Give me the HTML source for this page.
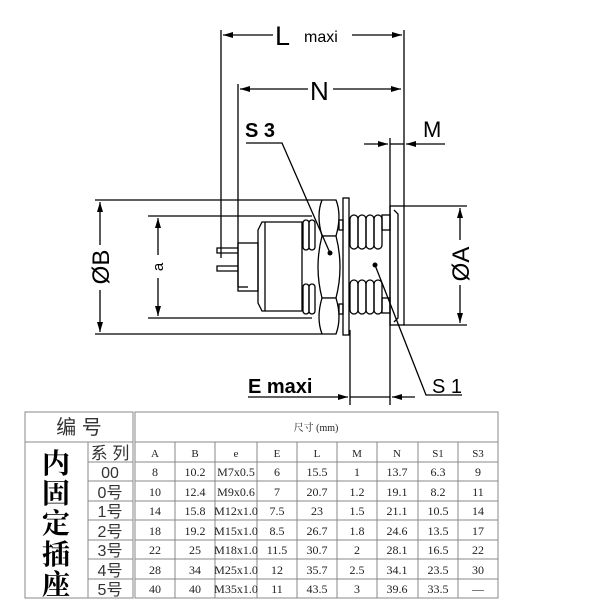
<!DOCTYPE html>
<html><head><meta charset="utf-8"><style>
html,body{margin:0;padding:0;background:#fff;width:600px;height:600px;overflow:hidden}
svg{display:block}
.s{font-family:"Liberation Sans",sans-serif}
.c{font-family:"Liberation Serif","Noto Serif CJK SC",serif}
.k{font-family:"Liberation Sans","Noto Sans CJK SC",sans-serif}
</style></head><body>
<svg width="600" height="600" viewBox="0 0 600 600" xmlns="http://www.w3.org/2000/svg">
<defs>
<marker id="a" viewBox="0 0 10 6" refX="10" refY="3" markerWidth="10" markerHeight="6" orient="auto-start-reverse" markerUnits="userSpaceOnUse"><path d="M0,0 L10,3 L0,6z" fill="#000"/></marker>
</defs>
<g stroke="#000" stroke-width="1.3" fill="none">
<line x1="221" y1="30" x2="221" y2="258"/>
<line x1="238" y1="84" x2="238" y2="287"/>
<line x1="238" y1="287" x2="248" y2="287"/>
<line x1="404" y1="30" x2="404" y2="206"/>
<line x1="390" y1="138" x2="390" y2="405"/>
<line x1="350" y1="330" x2="350" y2="405"/>
<line x1="273" y1="35" x2="223" y2="35" marker-end="url(#a)"/>
<line x1="352" y1="35" x2="402" y2="35" marker-end="url(#a)"/>
<line x1="308" y1="89" x2="240" y2="89" marker-end="url(#a)"/>
<line x1="333" y1="89" x2="401" y2="89" marker-end="url(#a)"/>
<line x1="364" y1="144" x2="388" y2="144" marker-end="url(#a)"/>
<line x1="390" y1="144" x2="404" y2="144"/>
<line x1="445" y1="144" x2="406" y2="144" marker-end="url(#a)"/>
<line x1="248" y1="397" x2="348" y2="397" marker-end="url(#a)"/>
<line x1="350" y1="397" x2="390" y2="397"/>
<line x1="415" y1="397" x2="392" y2="397" marker-end="url(#a)"/>
<line x1="95" y1="200" x2="322" y2="200"/>
<line x1="95" y1="334" x2="322" y2="334"/>
<line x1="100" y1="245" x2="100" y2="202" marker-end="url(#a)"/>
<line x1="100" y1="290" x2="100" y2="332" marker-end="url(#a)"/>
<line x1="148" y1="216" x2="312" y2="216"/>
<line x1="148" y1="318" x2="312" y2="318"/>
<line x1="158" y1="255" x2="158" y2="218" marker-end="url(#a)"/>
<line x1="158" y1="278" x2="158" y2="316" marker-end="url(#a)"/>
<line x1="404" y1="206" x2="467" y2="206"/>
<line x1="404" y1="325" x2="467" y2="325"/>
<line x1="460" y1="240" x2="460" y2="208" marker-end="url(#a)"/>
<line x1="460" y1="285" x2="460" y2="323" marker-end="url(#a)"/>
<polyline points="238,248 217,248 217,253 238,253"/>
<polyline points="238,266 217,266 217,271 238,271"/>
<rect x="238" y="243" width="20" height="48"/>
<path d="M262,222 L302,222 L302,311 L262,311 L258,303 L258,230z"/>
<line x1="265" y1="222" x2="265" y2="311"/>
<rect x="303" y="220" width="6" height="30" rx="3"/><rect x="309" y="220" width="6" height="30" rx="3"/>
<rect x="303" y="284" width="6" height="30" rx="3"/><rect x="309" y="284" width="6" height="30" rx="3"/>
<path d="M322,200 L336,200 Q342,215 336,236 L322,236 Q316,215 322,200z" fill="#fff"/>
<path d="M322,236 L336,236 Q344,267 336,298 L322,298 Q314,267 322,236z" fill="#fff"/>
<path d="M322,298 L336,298 Q342,318 336,334 L322,334 Q316,318 322,298z" fill="#fff"/>
<rect x="343" y="198" width="6" height="137"/>
<rect x="339" y="220" width="4" height="10"/><rect x="339" y="304" width="4" height="10"/>
<rect x="350" y="215" width="8" height="34" rx="4"/><rect x="358" y="215" width="8" height="34" rx="4"/><rect x="366" y="215" width="8" height="34" rx="4"/><rect x="374" y="215" width="8" height="34" rx="4"/>
<rect x="350" y="280" width="8" height="34" rx="4"/><rect x="358" y="280" width="8" height="34" rx="4"/><rect x="366" y="280" width="8" height="34" rx="4"/><rect x="374" y="280" width="8" height="34" rx="4"/>
<rect x="382" y="215" width="8" height="15"/><rect x="382" y="298" width="8" height="15"/>
<rect x="390" y="206" width="14" height="119"/>
<path d="M394,210 L398,214 L398,318 L394,322"/>
<polyline points="246,143 282,143 330,253"/>
<polyline points="375,265 426,395 462,395"/>
</g>
<circle cx="330" cy="253" r="2.5"/><circle cx="375" cy="265" r="2.5"/>
<g class="s" fill="#000">
<text x="275" y="45" font-size="27">L</text>
<text x="304" y="42" font-size="16">maxi</text>
<text x="310" y="100" font-size="26">N</text>
<text x="245" y="137" font-size="20" font-weight="bold">S 3</text>
<text x="423" y="137" font-size="22">M</text>
<text x="248" y="393" font-size="20" font-weight="bold">E maxi</text>
<text x="432" y="393" font-size="20">S 1</text>
<text transform="translate(109,267) rotate(-90)" font-size="24" text-anchor="middle">ØB</text>
<text transform="translate(163,267) rotate(-90)" font-size="15" text-anchor="middle">a</text>
<text transform="translate(469,264) rotate(-90)" font-size="24" text-anchor="middle">ØA</text>
</g>
<g stroke="#888" stroke-width="1" fill="none">
<rect x="25" y="412" width="108" height="186"/>
<line x1="25" y1="442" x2="133" y2="442"/>
<line x1="88" y1="442" x2="88" y2="598"/>
<line x1="88" y1="462" x2="133" y2="462"/><line x1="88" y1="481" x2="133" y2="481"/>
<line x1="88" y1="501" x2="133" y2="501"/><line x1="88" y1="520" x2="133" y2="520"/>
<line x1="88" y1="540" x2="133" y2="540"/><line x1="88" y1="559" x2="133" y2="559"/>
<line x1="88" y1="579" x2="133" y2="579"/>
<rect x="135" y="412" width="363" height="186"/>
<line x1="135" y1="442" x2="498" y2="442"/>
<line x1="135" y1="462" x2="498" y2="462"/><line x1="135" y1="481" x2="498" y2="481"/>
<line x1="135" y1="501" x2="498" y2="501"/><line x1="135" y1="520" x2="498" y2="520"/>
<line x1="135" y1="540" x2="498" y2="540"/><line x1="135" y1="559" x2="498" y2="559"/>
<line x1="135" y1="579" x2="498" y2="579"/>
<line x1="175" y1="442" x2="175" y2="598"/><line x1="215" y1="442" x2="215" y2="598"/>
<line x1="257" y1="442" x2="257" y2="598"/><line x1="297" y1="442" x2="297" y2="598"/>
<line x1="337" y1="442" x2="337" y2="598"/><line x1="377" y1="442" x2="377" y2="598"/>
<line x1="418" y1="442" x2="418" y2="598"/><line x1="458" y1="442" x2="458" y2="598"/>
</g>
<g class="k" fill="#333" text-anchor="middle">
<text x="79" y="434" font-size="20">编 号</text>
<text x="110" y="459" font-size="17">系 列</text>
<text x="110" y="478" font-size="16">00</text>
<text x="110" y="498" font-size="16">0号</text>
<text x="110" y="517" font-size="16">1号</text>
<text x="110" y="537" font-size="16">2号</text>
<text x="110" y="556" font-size="16">3号</text>
<text x="110" y="576" font-size="16">4号</text>
<text x="110" y="595" font-size="16">5号</text>
</g>
<g font-family="'Noto Serif CJK SC',serif" fill="#000" text-anchor="middle" font-size="28" font-weight="bold">
<text x="56" y="473">内</text><text x="56" y="503">固</text><text x="56" y="533">定</text>
<text x="56" y="564">插</text><text x="56" y="594">座</text>
</g>
<g class="c" fill="#222" text-anchor="middle" font-size="12">
<text x="316" y="431" font-size="10">尺寸 (mm)</text>
<g font-size="11"><text x="155" y="457">A</text><text x="195" y="457">B</text><text x="236" y="457">e</text><text x="277" y="457">E</text><text x="317" y="457">L</text><text x="357" y="457">M</text><text x="397" y="457">N</text><text x="438" y="457">S1</text><text x="478" y="457">S3</text></g>
<text x="155" y="476">8</text><text x="195" y="476">10.2</text><text x="236" y="476">M7x0.5</text><text x="277" y="476">6</text><text x="317" y="476">15.5</text><text x="357" y="476">1</text><text x="397" y="476">13.7</text><text x="438" y="476">6.3</text><text x="478" y="476">9</text>
<text x="155" y="496">10</text><text x="195" y="496">12.4</text><text x="236" y="496">M9x0.6</text><text x="277" y="496">7</text><text x="317" y="496">20.7</text><text x="357" y="496">1.2</text><text x="397" y="496">19.1</text><text x="438" y="496">8.2</text><text x="478" y="496">11</text>
<text x="155" y="515">14</text><text x="195" y="515">15.8</text><text x="236" y="515">M12x1.0</text><text x="277" y="515">7.5</text><text x="317" y="515">23</text><text x="357" y="515">1.5</text><text x="397" y="515">21.1</text><text x="438" y="515">10.5</text><text x="478" y="515">14</text>
<text x="155" y="535">18</text><text x="195" y="535">19.2</text><text x="236" y="535">M15x1.0</text><text x="277" y="535">8.5</text><text x="317" y="535">26.7</text><text x="357" y="535">1.8</text><text x="397" y="535">24.6</text><text x="438" y="535">13.5</text><text x="478" y="535">17</text>
<text x="155" y="554">22</text><text x="195" y="554">25</text><text x="236" y="554">M18x1.0</text><text x="277" y="554">11.5</text><text x="317" y="554">30.7</text><text x="357" y="554">2</text><text x="397" y="554">28.1</text><text x="438" y="554">16.5</text><text x="478" y="554">22</text>
<text x="155" y="574">28</text><text x="195" y="574">34</text><text x="236" y="574">M25x1.0</text><text x="277" y="574">12</text><text x="317" y="574">35.7</text><text x="357" y="574">2.5</text><text x="397" y="574">34.1</text><text x="438" y="574">23.5</text><text x="478" y="574">30</text>
<text x="155" y="593">40</text><text x="195" y="593">40</text><text x="236" y="593">M35x1.0</text><text x="277" y="593">11</text><text x="317" y="593">43.5</text><text x="357" y="593">3</text><text x="397" y="593">39.6</text><text x="438" y="593">33.5</text><text x="478" y="593">—</text>
</g>
</svg>
</body></html>
